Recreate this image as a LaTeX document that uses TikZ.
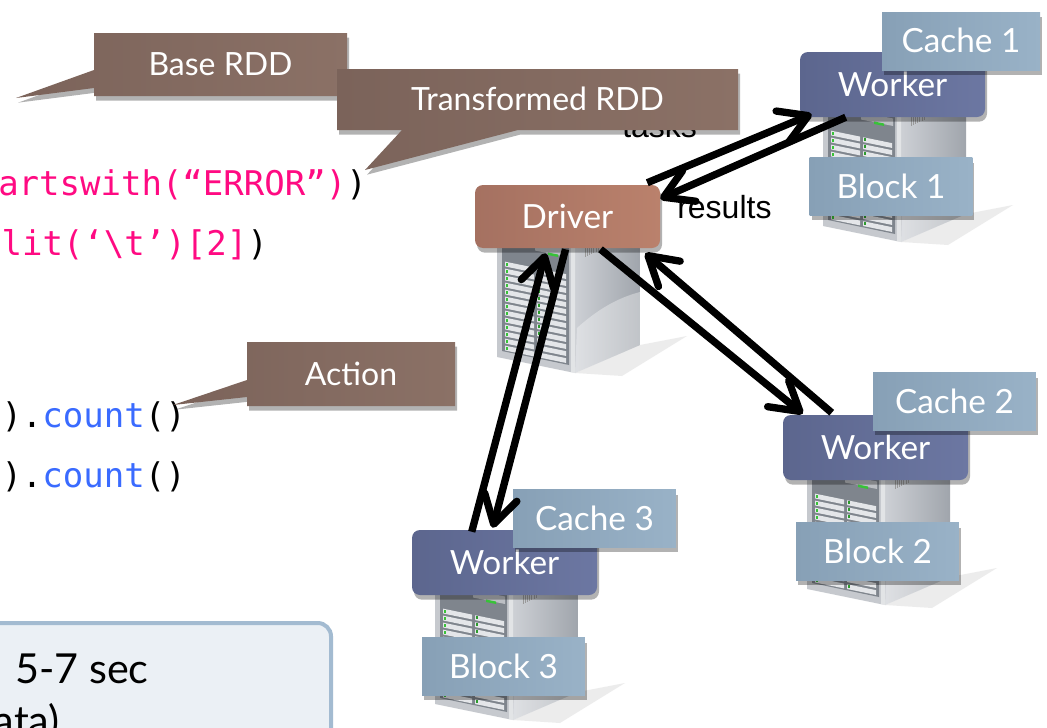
\documentclass[tikz,border=0pt]{standalone}
\usepackage{fontspec}
\setmainfont{Lato}
\newfontfamily\codefont{DejaVu Sans Mono}
\newfontfamily\arialfont{Liberation Sans}
\usetikzlibrary{arrows.meta,shadows,calc}
\definecolor{cbrown}{HTML}{7B635A}
\definecolor{cbrownlt}{HTML}{8B7166}
\definecolor{drvA}{HTML}{A57161}
\definecolor{drvB}{HTML}{BA816C}
\definecolor{wkA}{HTML}{5C668E}
\definecolor{wkB}{HTML}{6C77A2}
\definecolor{stA}{HTML}{87A0B6}
\definecolor{stB}{HTML}{99B2C7}
\definecolor{codepink}{HTML}{FF0A82}
\definecolor{codeblue}{HTML}{3A6BFF}
\definecolor{boxfill}{HTML}{EBF0F5}
\definecolor{boxline}{HTML}{A3BBD1}
\definecolor{twFront}{HTML}{C6C9CE}
\definecolor{twPanel}{HTML}{7F858D}
\definecolor{twSlot}{HTML}{E4E6E9}
\definecolor{twSideA}{HTML}{CDD0D5}
\definecolor{twSideB}{HTML}{A0A5AC}
\definecolor{led}{HTML}{38C238}
\tikzset{
  softshadow/.style={drop shadow={shadow xshift=1.5pt,shadow yshift=-3.5pt,opacity=0.3,fill=black}},
  calloutshape/.style={left color=cbrown, right color=cbrownlt, softshadow},
  calloutlabel/.style={text=white, font=\fontsize{24}{28}\selectfont, inner sep=0pt, text height=17.2pt, text depth=0pt},
  labelbox/.style={inner sep=0pt, text=white, font=\fontsize{25}{30}\selectfont, text height=17.9pt, text depth=0pt, softshadow},
  driverbox/.style={labelbox, rounded corners=6pt, left color=drvA, right color=drvB, minimum width=138.75pt, minimum height=47.25pt},
  workerbox/.style={labelbox, rounded corners=6pt, left color=wkA, right color=wkB, minimum width=138.75pt, minimum height=48.75pt},
  storebox/.style={labelbox, left color=stA, right color=stB, minimum width=122pt, minimum height=43pt},
  flow/.style={line width=5.5pt, -{Straight Barb[length=21pt,width=25pt,round]}},
  codetext/.style={font=\codefont\fontsize{25.5}{30}\selectfont, inner sep=0pt, anchor=base east},
  netlabel/.style={font=\arialfont\fontsize{24}{28}\selectfont, inner sep=0pt, anchor=base west},
  pics/tower/.style={code={
    \fill[black!10, opacity=0.7] (78,125) -- (143,97) -- (190,88) -- (125,128) -- cycle;
    \path[left color=twSideA, right color=twSideB] (78,-24) -- (143,-52) -- (143,97) -- (78,125) -- cycle;
    \path[fill=white, opacity=0.35] (80,80) .. controls (100,62) and (120,50) .. (143,44) -- (143,97) -- (78,125) -- cycle;
    \foreach \v in {0,...,6} \draw[black!40, line width=0.6pt] (88+2.2*\v,-2-0.43*2.2*\v) -- ++(0,11);
    \fill[twFront] (0,-40) -- (78,-24) -- (78,125) -- (0,109) -- cycle;
    \fill[white, opacity=0.5] (74,-25) -- (78,-24) -- (78,125) -- (74,124) -- cycle;
    \fill[twPanel] (5,-35) -- (72,-21) -- (72,117) -- (5,103) -- cycle;
    \fill[twSlot!60!twPanel] (38,-5) -- (70,1.5) -- (70,9) -- (38,2.5) -- cycle;
    \fill[led] (51,4.5) -- (61,6.5) -- (61,9) -- (51,7) -- cycle;
    \foreach \r in {0,...,12} {
      \foreach \p/\q in {8/37, 40/69} {
        \fill[twSlot] (\p,12+7*\r+0.205*\p) -- (\q,12+7*\r+0.205*\q) -- (\q,16.8+7*\r+0.205*\q) -- (\p,16.8+7*\r+0.205*\p) -- cycle;
      }
      \fill[led] (9,13+7*\r+1.9) rectangle ++(1.8,2.6);
      \fill[led!80!black] (41,13+7*\r+8.4) rectangle ++(1.6,2.4);
    }
  }}
}
\begin{document}
\begin{tikzpicture}[x=0.75pt,y=-0.75pt]
\useasboundingbox (0,0) rectangle (1047,728);
\fill[white] (0,0) rectangle (1047,728);

% code lines (right parts)
\node[codetext] (code1) at (367,195) {{\color{codepink}artswith(“ERROR”)})};
\node[codetext] (code2) at (268,255) {{\color{codepink}lit(‘\textbackslash t’)[2]})};
\node[codetext] (code3) at (186,427) {).{\color{codeblue}count}()};
\node[codetext] (code4) at (186,487) {).{\color{codeblue}count}()};

% result box
\path[fill=boxfill, draw=boxline, line width=3pt, rounded corners=10pt] (-30,623) rectangle (331,780);
\node[font=\fontsize{31}{36}\selectfont, inner sep=0pt, anchor=base west] (res1) at (15,683) {5-7 sec};
\node[font=\fontsize{31}{36}\selectfont, inner sep=0pt, anchor=base east] (res2) at (60,735) {data)};

% tasks label (partly hidden)
\node[netlabel] (tasks) at (622,137) {tasks};

% callouts
\path[calloutshape] (94,33) -- (347,33) -- (347,96) -- (94,96) -- (94,88) -- (16,98) -- (94,70) -- cycle;
\node[calloutlabel] (baselbl) at (220.5,64.5) {Base RDD};
\path[calloutshape] (337,69) -- (738,69) -- (738,130) -- (518,130) -- (365,170) -- (402,130) -- (337,130) -- cycle;
\node[calloutlabel] (translbl) at (537.5,99.5) {Transformed RDD};
\path[calloutshape] (247,342) -- (455,342) -- (455,406) -- (247,406) -- (247,397) -- (173,405) -- (247,380) -- cycle;
\node[calloutlabel] (actlbl) at (351,374) {Action};

% towers
\pic at (497,248) {tower};
\pic at (823,117) {tower};
\pic at (807,480) {tower};
\pic at (435,595) {tower};

% driver
\node[driverbox] (drv) at (567.5,216.5) {Driver};

% worker 1
\node[storebox] (blk1) at (891,186.5) {Block 1};
\node[workerbox] (wk1) at (892.5,84.5) {Worker};
\node[storebox, minimum width=118.5pt, minimum height=43.5pt] (cch1) at (961,41) {Cache 1};

% worker 2
\node[storebox] (blk2) at (877.5,551.5) {Block 2};
\node[workerbox] (wk2) at (875.5,447.5) {Worker};
\node[storebox] (cch2) at (954.5,401.5) {Cache 2};

% worker 3
\node[storebox] (blk3) at (503.5,666.5) {Block 3};
\node[workerbox] (wk3) at (504.5,562.5) {Worker};
\node[storebox] (cch3) at (594.5,518.5) {Cache 3};

% results label
\node[netlabel] (reslbl) at (677,218) {results};

% arrows
\draw[flow] ($(drv.north east)+(-13,-2)$) -- ($(wk1.south west)+(12,-3)$);
\draw[flow] ($(wk1.south west)+(46,0)$) -- ($(drv.north east)+(0,14)$);
\draw[flow] ($(drv.south)+(33,1)$) -- ($(wk2.north west)+(20,-1)$);
\draw[flow] ($(wk2.north west)+(49,-2)$) -- ($(drv.south east)+(-15,5)$);
\draw[flow] ($(drv.south)+(-2,1)$) -- ($(wk3.north west)+(81,-2)$);
\draw[flow] ($(wk3.north west)+(60,2)$) -- ($(drv.south)+(-22,5)$);
\end{tikzpicture}
\end{document}
